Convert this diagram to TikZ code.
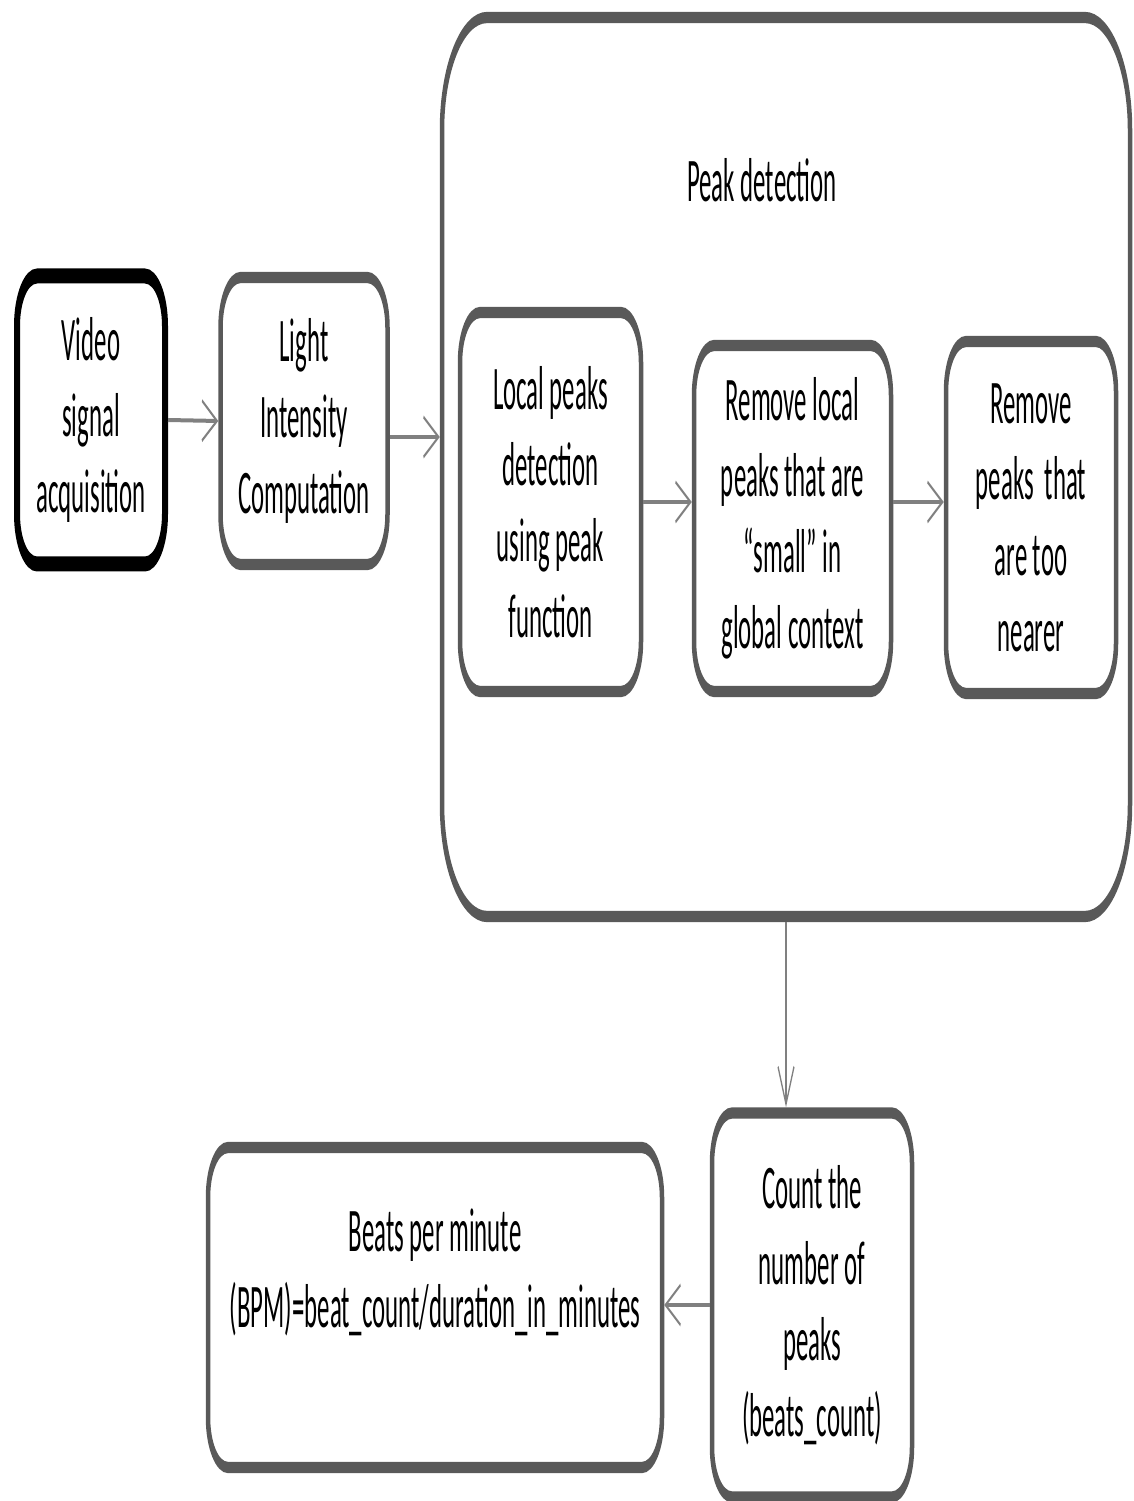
\documentclass[tikz,border=0pt]{standalone}
\usepackage{fontspec}
\setmainfont{Carlito}
\usetikzlibrary{arrows.meta,calc}
\definecolor{boxgray}{RGB}{89,89,89}
\definecolor{arrowgray}{RGB}{128,128,128}
\tikzset{
  stage/.style={draw=boxgray, line width=4.5pt, rounded corners=20pt, align=center, inner sep=0pt},
  flow/.style={draw=arrowgray, line width=1.6pt, -{Straight Barb[length=15pt,width=16pt,line width=1.2pt]}},
  txt/.style={font=\fontsize{24.8}{30.4}\selectfont}
}

\begin{document}
\begin{tikzpicture}
\useasboundingbox (0,0) rectangle (1134pt,-1501pt);
\begin{scope}[x=1pt, y=-0.4pt, transform canvas={yscale=2.5}, txt]
\node[stage, draw=black, line width=6pt, minimum width=148pt, minimum height=115.2pt] (vid) at (91,420) {Video\\signal\\acquisition};
\node[stage, minimum width=167pt, minimum height=114.8pt] (light) at (304,421) {Light\\Intensity\\Computation};
\node[stage, rounded corners=45pt, minimum width=688pt, minimum height=359.6pt] (pk) at (786,467) {};
\node (pktitle) at (762,180) {Peak detection};
\node[stage, minimum width=181pt, minimum height=151.6pt] (local) at (550.5,502) {Local peaks\\detection\\using peak\\function};
\node[stage, minimum width=197pt, minimum height=138.4pt] (rmlocal) at (792.5,518.5) {Remove local\\peaks that are\\“small” in\\global context};
\node[stage, minimum width=170pt, minimum height=140.8pt] (rmnear) at (1031,517.5) {Remove\\peaks~ that\\are too\\nearer};
\node[stage, minimum width=200pt, minimum height=153.6pt] (count) at (812,1305) {Count the\\number of\\peaks\\(beats\_count)};
\node[stage, minimum width=454pt, minimum height=128pt] (bpm) at (435,1307.5) {};
\node[align=center] (bpmtxt) at (435,1272) {Beats per minute\\(BPM)=beat\_count/duration\_in\_minutes};
\draw[flow] (vid.east) -- (light.west);
\draw[flow] ([yshift=-6.4pt]light.east) -- ([yshift=-6.4pt]light.east -| pk.west);
\draw[flow] (local.east) -- (local.east -| rmlocal.west);
\draw[flow] (rmlocal.east |- local.east) -- (local.east -| rmnear.west);
\draw[flow] (pk.south) -- (pk.south |- count.north);
\draw[flow] (count.west) -- (count.west -| bpm.east);
\end{scope}
\end{tikzpicture}
\end{document}
